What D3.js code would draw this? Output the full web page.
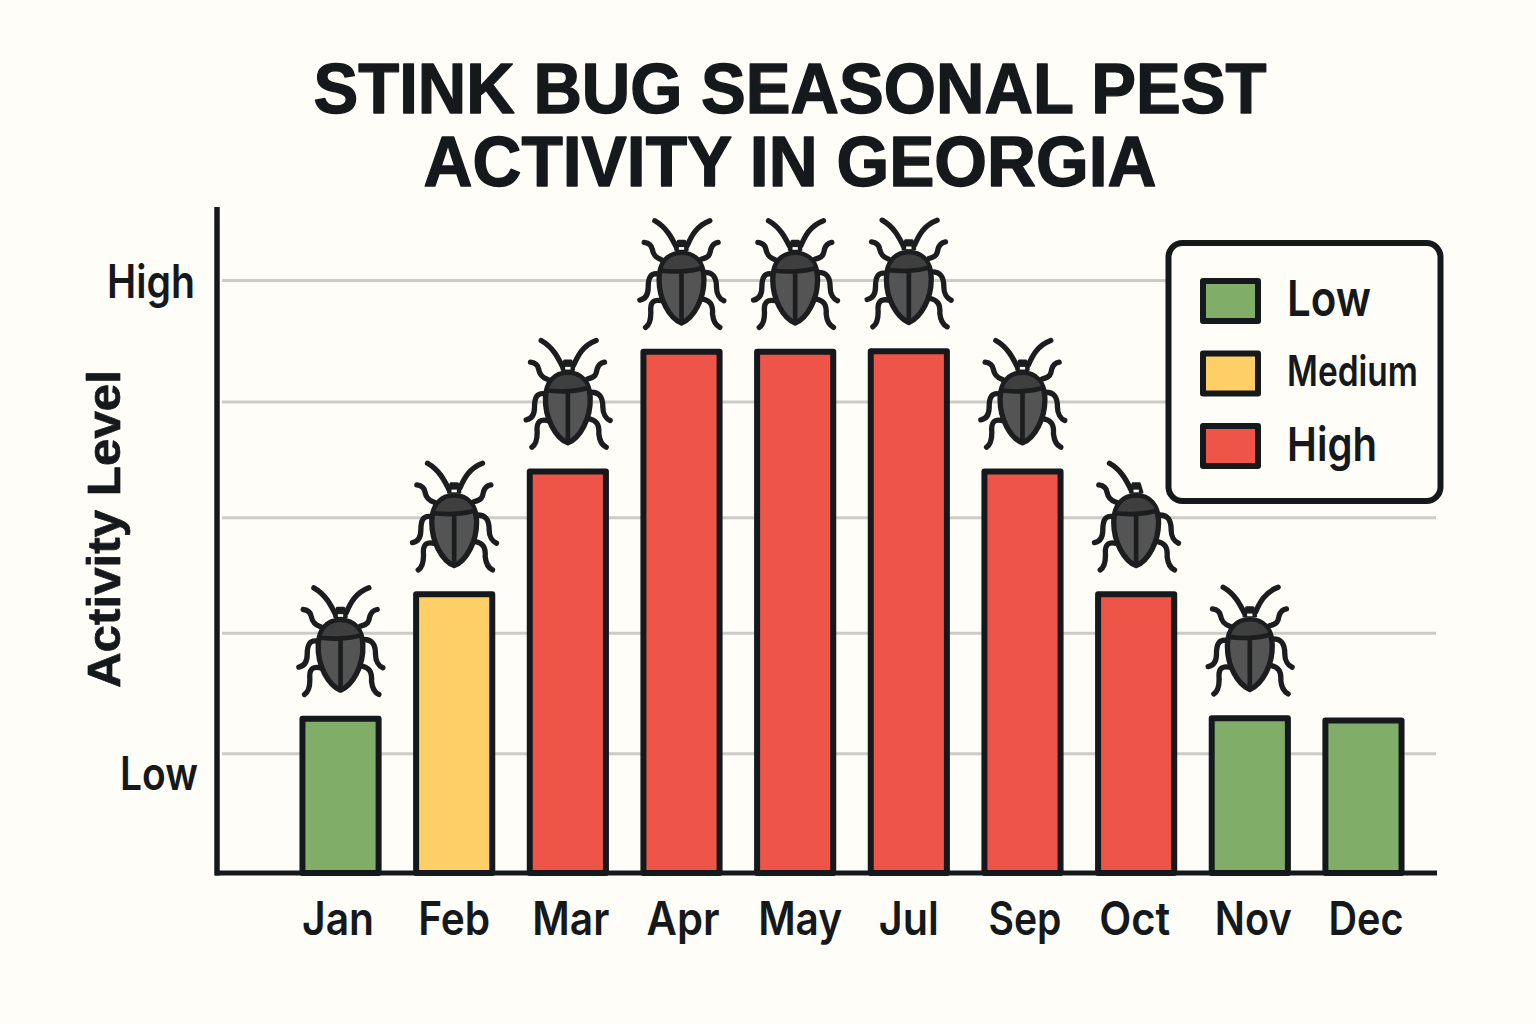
<!DOCTYPE html>
<html><head><meta charset="utf-8">
<script src="https://cdn.jsdelivr.net/npm/d3@7/dist/d3.min.js"></script>
<style>
html,body{margin:0;padding:0;background:#fffdf8}
svg{display:block}
text{font-family:Inter,Roboto,sans-serif;fill:#15191b}
text.heavy{font-family:"Liberation Sans",Arial,sans-serif;font-weight:700;stroke:#15191b;stroke-linejoin:round}
</style></head><body>
<svg id="c" width="1536" height="1024"></svg>
<script>
const titleLines = ["STINK BUG SEASONAL PEST","ACTIVITY IN GEORGIA"];
const months = ["Jan","Feb","Mar","Apr","May","Jul","Sep","Oct","Nov","Dec"];
const activity = [26,47,67.7,87.9,87.9,88,67.7,47,26.1,25.7];
const level = ["Low","Medium","High","High","High","High","High","High","Low","Low"];
const hasBug = [1,1,1,1,1,1,1,1,1,0];
const gridValues = [20.2,40.5,60,79.5,100];
const levelTickValues = [16.5,99.5];
const levelTickLabels = ["Low","High"];
const legendLevels = ["Low","Medium","High"];
const levelColors = ["#80ae68","#fdcf66","#ee5548"];

const INK="#15191b", BG="#fffdf8", BUGINK="#1b1d1e", W=1536, H=1024;
const titleWidth=[953,733];
const monthLabelWidth={Jan:72,Feb:72,Mar:77,Apr:73,May:84,Jul:60,Sep:73,Oct:71,Nov:77,Dec:75};
const monthLabelShift={Jan:-2.5,Feb:0,Mar:3,Apr:1.5,May:5,Jul:0,Sep:2.5,Oct:-1.5,Nov:3.5,Dec:2.5};
const levelLabelWidth={Low:78,High:88}, levelLabelRight={Low:198,High:195};
const legendWidth={Low:84,Medium:131,High:90}, legendFontSize={Low:50,Medium:42,High:47}, legendBase={Low:14.5,Medium:12.7,High:15};

const svg=d3.select("#c");
svg.append("rect").attr("width",W).attr("height",H).attr("fill",BG);

const x=d3.scaleBand().domain(months).range([283.7,1420.3]).paddingInner(.33).paddingOuter(.165);
const y=d3.scaleLinear().domain([0,100]).range([873,280]);
const color=d3.scaleOrdinal().domain(legendLevels).range(levelColors);

// title
svg.append("g").selectAll("text").data(titleLines).join("text").attr("class","heavy")
  .attr("x",790).attr("y",(d,i)=>112.5+i*73).attr("text-anchor","middle")
  .attr("font-size",70).attr("stroke-width",1.4)
  .attr("textLength",(d,i)=>titleWidth[i]).attr("lengthAdjust","spacingAndGlyphs").text(d=>d);

// gridlines
const grid=d3.axisLeft(y).tickValues(gridValues).tickSize(-1214).tickFormat("");
svg.append("g").attr("transform","translate(222,0)").call(grid)
  .call(g=>g.select(".domain").remove())
  .selectAll("line").attr("stroke","#cbcbc8").attr("stroke-width",3);

// bars
svg.append("g").selectAll("rect").data(months).join("rect")
  .attr("x",d=>x(d)).attr("width",x.bandwidth())
  .attr("y",(d,i)=>y(activity[i])).attr("height",(d,i)=>y(0)-y(activity[i]))
  .attr("fill",(d,i)=>color(level[i])).attr("stroke",INK).attr("stroke-width",6).attr("stroke-linejoin","round");

// bug pictogram
const legs=["M165 125C150 95 135 65 100 45","M197 120C210 90 225 60 265 45",
 "M120 162C100 155 95 145 92 130C90 118 80 112 68 110","M240 160C262 155 265 148 268 130C272 118 280 112 290 110",
 "M112 205C88 200 80 215 80 245C80 270 70 280 55 283","M250 200C275 200 285 215 285 245C285 265 295 280 307 285",
 "M120 285C95 280 85 290 88 320C88 345 80 360 72 365","M245 280C265 285 275 295 273 325C275 345 285 360 295 365"];
const hiddenParts={Oct:[1,3]}; // the legend box swallows these on the October bug
const bodyPath="M180 142C220 142 245 170 247 215C250 280 215 338 180 352C145 338 110 280 113 215C115 170 140 142 180 142Z";
const bugs=svg.append("g").selectAll("g").data(months.filter((d,i)=>hasBug[i])).join("g")
  .attr("transform",d=>{const v=activity[months.indexOf(d)];
    return `translate(${x(d)+x.bandwidth()/2},${y(v)}) scale(.3333) translate(-180,-438)`;});
bugs.selectAll(".leg").data(m=>legs.filter((p,i)=>!(hiddenParts[m]||[]).includes(i))).join("path").attr("class","leg").attr("d",d=>d)
  .attr("fill","none").attr("stroke",BUGINK).attr("stroke-width",16).attr("stroke-linecap","round").attr("stroke-linejoin","round");
bugs.append("path").attr("d","M162 132L170 106L190 106L198 132Z").attr("fill",BUGINK).attr("stroke",BUGINK).attr("stroke-width",8).attr("stroke-linejoin","round");
bugs.append("rect").attr("x",172).attr("y",124).attr("width",16).attr("height",8).attr("fill",BG);
bugs.append("path").attr("d",bodyPath).attr("fill","#545454").attr("stroke",BUGINK).attr("stroke-width",16).attr("stroke-linejoin","round");
bugs.append("path").attr("d","M180 148C150 148 130 165 122 192C160 198 205 196 238 186C228 162 208 148 180 148Z").attr("fill","#3f3f3f");
bugs.append("path").attr("d","M116 194C150 200 210 198 244 186M180 198L180 348").attr("fill","none").attr("stroke",BUGINK).attr("stroke-width",14);

// axes
const xAxis=d3.axisBottom(x).tickSize(0).tickPadding(29.3);
svg.append("g").attr("transform","translate(0,873)").call(xAxis)
  .call(g=>g.select(".domain").remove())
  .selectAll("text").attr("font-size",46).attr("font-weight",600)
  .attr("dx",d=>monthLabelShift[d]).attr("textLength",d=>monthLabelWidth[d]).attr("lengthAdjust","spacingAndGlyphs");
const levelAxis=d3.axisLeft(y).tickValues(levelTickValues).tickFormat((d,i)=>levelTickLabels[i]).tickSize(0).tickPadding(0);
svg.append("g").call(levelAxis)
  .call(g=>g.select(".domain").remove())
  .selectAll("text").attr("font-size",46).attr("font-weight",600)
  .attr("x",(d,i)=>levelLabelRight[levelTickLabels[i]])
  .attr("textLength",(d,i)=>levelLabelWidth[levelTickLabels[i]]).attr("lengthAdjust","spacingAndGlyphs");
svg.append("line").attr("x1",217).attr("x2",217).attr("y1",207).attr("y2",875.5).attr("stroke",INK).attr("stroke-width",5.5);
svg.append("line").attr("x1",215).attr("x2",1437).attr("y1",873).attr("y2",873).attr("stroke",INK).attr("stroke-width",5);
svg.append("text").attr("class","heavy").attr("transform","translate(120,529) rotate(-90)").attr("text-anchor","middle")
  .attr("font-size",47).attr("stroke-width",.7).attr("textLength",318).attr("lengthAdjust","spacingAndGlyphs").text("Activity Level");

// legend
const lg=svg.append("g");
lg.append("rect").attr("x",1168.5).attr("y",243).attr("width",272).attr("height",258).attr("rx",14)
  .attr("fill",BG).attr("stroke",INK).attr("stroke-width",6);
const legendY=d3.scalePoint().domain(legendLevels).range([301,446]);
lg.selectAll("rect.sw").data(legendLevels).join("rect").attr("class","sw")
  .attr("x",1203).attr("width",55).attr("y",d=>legendY(d)-20).attr("height",40)
  .attr("fill",d=>color(d)).attr("stroke",INK).attr("stroke-width",6).attr("stroke-linejoin","round");
lg.selectAll("text").data(legendLevels).join("text")
  .attr("x",1287).attr("y",d=>legendY(d)+legendBase[d])
  .attr("font-size",d=>legendFontSize[d]).attr("font-weight",600)
  .attr("textLength",d=>legendWidth[d]).attr("lengthAdjust","spacingAndGlyphs").text(d=>d);
</script>
</body></html>
